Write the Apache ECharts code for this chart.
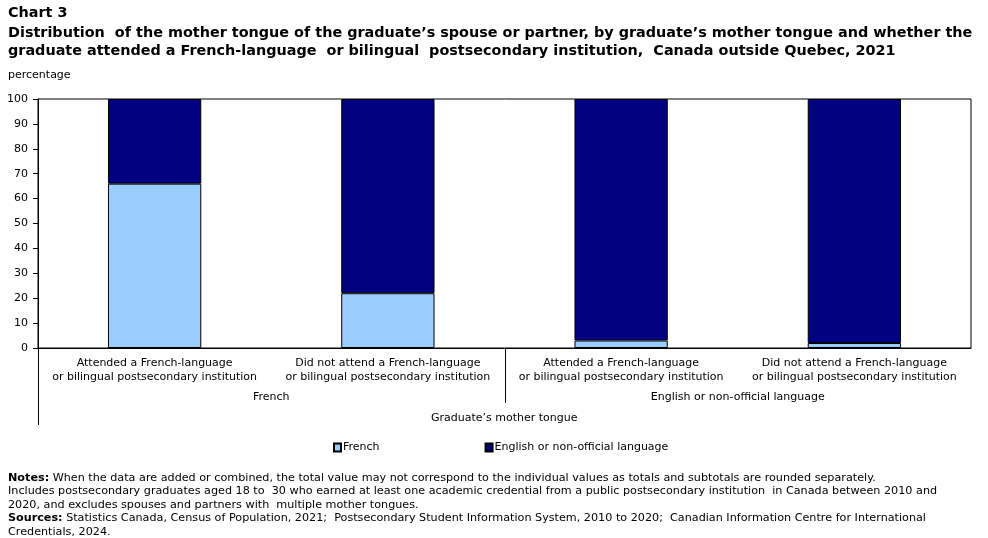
<!DOCTYPE html>
<html>
<head>
<meta charset="utf-8">
<script src="https://cdn.jsdelivr.net/npm/echarts@6/dist/echarts.min.js"></script>
<style>
  html, body { margin: 0; padding: 0; background: #fff; }
  #main { width: 988px; height: 538px; }
</style>
</head>
<body>
<div id="main"></div>
<script>
const categories = [
    'Attended a French-language\nor bilingual postsecondary institution',
    'Did not attend a French-language\nor bilingual postsecondary institution',
    'Attended a French-language\nor bilingual postsecondary institution',
    'Did not attend a French-language\nor bilingual postsecondary institution'
]
const groups = ['French', 'English or non-official language']
const french = [66, 22, 3, 2]
const englishOther = [34, 78, 97, 98]
const yTicks = [0, 10, 20, 30, 40, 50, 60, 70, 80, 90, 100]

const font = 'DejaVu Sans'
let myChart = echarts.init(document.getElementById('main'))

let options = {
    animation: false,
    textStyle: { fontFamily: font },
    grid: {
        left: 38, right: 17, top: 99, bottom: 190,
        show: true, borderColor: '#000', borderWidth: 1
    },
    legend: {
        bottom: 80, left: 328,
        itemWidth: 7, itemHeight: 8, itemGap: 105,
        icon: 'rect',
        textStyle: { fontSize: 11, color: '#000', fontFamily: font, padding: [0, 0, 0, -3] },
        data: ['French', 'English or non-official language']
    },
    xAxis: [{
        type: 'category',
        data: categories,
        axisLine: { lineStyle: { color: '#000' } },
        axisTick: { show: false },
        axisLabel: { color: '#000', fontSize: 11, lineHeight: 14, margin: 8, interval: 0 }
    }, {
        type: 'category',
        data: groups,
        position: 'bottom',
        axisLine: { show: false },
        axisTick: { show: false },
        axisLabel: { color: '#000', fontSize: 11, margin: 44 }
    }],
    yAxis: [{
        type: 'value',
        min: 0, max: 100, interval: 10,
        splitLine: { show: false },
        axisLine: { show: true, lineStyle: { color: '#000' } },
        axisTick: { show: true, length: 5, lineStyle: { color: '#000' } },
        axisLabel: {
            color: '#000', fontSize: 11, margin: 10,
            formatter: v => yTicks.includes(v) ? String(v) : ''
        }
    }],
    series: [{
        name: 'French',
        type: 'bar',
        stack: 'total',
        data: french,
        barWidth: '40%',
        itemStyle: { color: '#99ccff', borderColor: '#000', borderWidth: 1 }
    }, {
        name: 'English or non-official language',
        type: 'bar',
        stack: 'total',
        data: englishOther,
        itemStyle: { color: '#000080', borderColor: '#000', borderWidth: 1 }
    }],
    graphic: [
        { type: 'text', left: 8, top: 6, style: { text: 'Chart 3', font: 'bold 14.4px ' + font, fill: '#000' } },
        { type: 'text', left: 8, top: 24, style: {
            text: 'Distribution  of the mother tongue of the graduate’s spouse or partner, by graduate’s mother tongue and whether the\ngraduate attended a French-language  or bilingual  postsecondary institution,  Canada outside Quebec, 2021',
            font: 'bold 14.4px ' + font, lineHeight: 18, fill: '#000' } },
        { type: 'text', left: 8, top: 70, style: { text: 'percentage', font: '11px ' + font, fill: '#000' } },
        { type: 'line', shape: { x1: 38.5, y1: 348, x2: 38.5, y2: 425 }, style: { stroke: '#000', lineWidth: 1 } },
        { type: 'line', shape: { x1: 505.5, y1: 348, x2: 505.5, y2: 403 }, style: { stroke: '#000', lineWidth: 1 } },
        { type: 'text', left: 431, top: 413, style: { text: 'Graduate’s mother tongue', font: '11px ' + font, fill: '#000' } },
        { type: 'text', left: 8, top: 471, style: {
            text: '{b|Notes:} When the data are added or combined, the total value may not correspond to the individual values as totals and subtotals are rounded separately.\nIncludes postsecondary graduates aged 18 to  30 who earned at least one academic credential from a public postsecondary institution  in Canada between 2010 and\n2020, and excludes spouses and partners with  multiple mother tongues.\n{b|Sources:} Statistics Canada, Census of Population, 2021;  Postsecondary Student Information System, 2010 to 2020;  Canadian Information Centre for International\nCredentials, 2024.',
            font: '11.2px ' + font, lineHeight: 13.5, fill: '#000',
            rich: { b: { fontWeight: 'bold', fontSize: 11.2, fontFamily: font } }
        } }
    ]
}

myChart.setOption(options)
</script>
</body>
</html>
